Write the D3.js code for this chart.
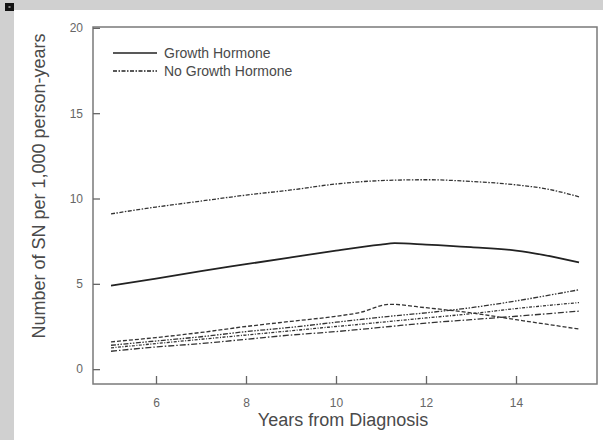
<!DOCTYPE html>
<html><head><meta charset="utf-8">
<script src="https://cdn.jsdelivr.net/npm/d3@7"></script>
<style>
html,body{margin:0;padding:0;background:#fff;}
svg{display:block;font-family:"Liberation Sans",Arial,Helvetica,sans-serif;}
</style></head>
<body>
<svg id="c" width="603" height="440"></svg>
<script>
// ---- data ----
const xTicks = [6, 8, 10, 12, 14];
const yTicks = [0, 5, 10, 15, 20];
const seriesNames = ["Growth Hormone", "No Growth Hormone"];
const ghX   = [5, 6, 7, 8, 9, 10, 11, 11.3, 12, 13, 14, 14.6, 15.4];
const ghY   = [4.9, 5.3, 5.75, 6.15, 6.55, 6.95, 7.3, 7.38, 7.3, 7.15, 6.95, 6.7, 6.25];
const noGhX = [5, 6, 7, 8, 9, 10, 11, 12, 13, 14, 14.7, 15.4];
const noGhY = [9.1, 9.5, 9.85, 10.2, 10.5, 10.85, 11.05, 11.1, 11.0, 10.8, 10.55, 10.1];
const lowX  = [5, 6, 7, 8, 9, 10, 10.5, 11.2, 12, 13, 14, 15.4];
const low1Y = [1.6, 1.85, 2.15, 2.5, 2.8, 3.1, 3.3, 3.8, 3.6, 3.3, 2.9, 2.35];
const low2Y = [1.4, 1.65, 1.9, 2.2, 2.45, 2.75, 2.9, 3.1, 3.3, 3.6, 4.0, 4.65];
const low3Y = [1.25, 1.5, 1.75, 2.0, 2.25, 2.5, 2.62, 2.8, 3.0, 3.25, 3.55, 3.9];
const low4Y = [1.05, 1.3, 1.5, 1.75, 2.0, 2.2, 2.32, 2.5, 2.7, 2.9, 3.1, 3.4];

// ---- layout ----
const svg = d3.select("#c");
const L = 93, R = 597, T = 27, B = 384;
const x = d3.scaleLinear().domain([4.6, 15.8]).range([L, R]);
const y = d3.scaleLinear().domain([-0.87, 20.05]).range([B, T]);

// gray frame
svg.append("rect").attr("x",0).attr("y",0).attr("width",603).attr("height",440).attr("fill","#d0d0d0");
svg.append("rect").attr("x",14).attr("y",10).attr("width",589).attr("height",430).attr("fill","#fff");
svg.append("rect").attr("x",5).attr("y",3).attr("width",9).attr("height",8).attr("fill","#111");
svg.append("rect").attr("x",8.5).attr("y",6).attr("width",2).attr("height",2).attr("fill","#888");

// plot box
svg.append("rect").attr("x",L).attr("y",T).attr("width",R-L).attr("height",B-T)
  .attr("fill","none").attr("stroke","#7a7a7a").attr("stroke-width",1.5);

// axes
const xAxis = d3.axisBottom(x).tickValues(xTicks).tickSize(-8).tickPadding(14);
const gx = svg.append("g").attr("transform",`translate(0,${B})`).call(xAxis);
const yAxis = d3.axisLeft(y).tickValues(yTicks).tickSize(-7).tickPadding(10);
const gy = svg.append("g").attr("transform",`translate(${L},0)`).call(yAxis);
[gx, gy].forEach(g => {
  g.select(".domain").remove();
  g.selectAll(".tick line").attr("stroke","#666").attr("stroke-width",1.3);
  g.selectAll(".tick text").attr("fill","#666").style("font-size","12px");
});

// titles
svg.append("text").attr("x",343).attr("y",426).attr("text-anchor","middle")
  .attr("fill","#4a4a4a").style("font-size","18px").text("Years from Diagnosis");
svg.append("text").attr("transform","translate(45,186) rotate(-90)").attr("text-anchor","middle")
  .attr("fill","#4a4a4a").style("font-size","18px").text("Number of SN per 1,000 person-years");

// lines
const line = d3.line().x(d => x(d[0])).y(d => y(d[1])).curve(d3.curveMonotoneX);
const zip = (xs, ys) => xs.map((v,i) => [v, ys[i]]);
const series = [
  {pts: zip(lowX, low4Y), dash: "6,2,1.5,2", w: 1.3, c: "#333"},
  {pts: zip(lowX, low3Y), dash: "3,1.5,1,1.5", w: 1.3, c: "#333"},
  {pts: zip(lowX, low2Y), dash: "5,1.5,1.5,1.5,1.5,1.5", w: 1.3, c: "#333"},
  {pts: zip(lowX, low1Y), dash: "4,2", w: 1.3, c: "#333"},
  {pts: zip(noGhX, noGhY), dash: "4,1.5,1.5,1.5", w: 1.3, c: "#333"},
  {pts: zip(ghX, ghY), dash: null, w: 1.8, c: "#222"}
];
series.forEach(s => {
  svg.append("path").attr("d", line(s.pts)).attr("fill","none")
    .attr("stroke", s.c).attr("stroke-width", s.w)
    .attr("stroke-dasharray", s.dash);
});

// legend
const leg = svg.append("g");
const legDash = [null, "4,1.5,1.5,1.5"];
seriesNames.forEach((n,i) => {
  const yy = 53 + i*18;
  leg.append("line").attr("x1",113).attr("x2",157).attr("y1",yy).attr("y2",yy)
    .attr("stroke","#222").attr("stroke-width", i===0?1.6:1.3).attr("stroke-dasharray", legDash[i]);
  leg.append("text").attr("x",164).attr("y",yy+4.5).attr("fill","#4a4a4a")
    .style("font-size","14px").text(n);
});
</script>
</body></html>
